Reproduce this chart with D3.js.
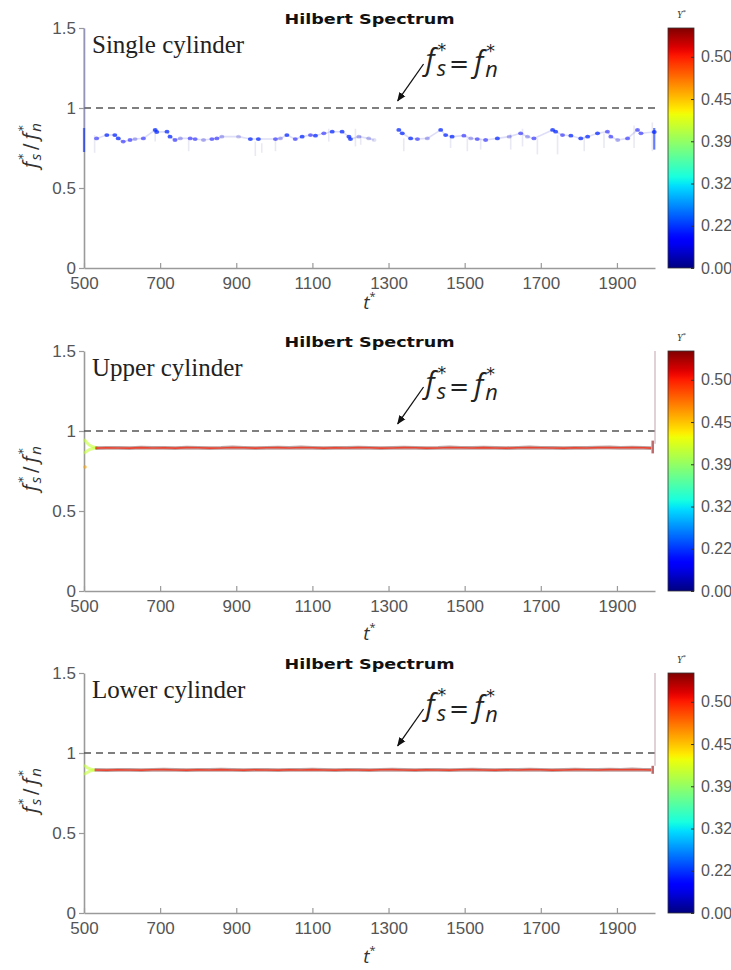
<!DOCTYPE html>
<html>
<head>
<meta charset="utf-8">
<script src="https://cdn.jsdelivr.net/npm/d3@7"></script>
<style>
  body { margin: 0; background: #fff; }
  svg { display: block; }
</style>
</head>
<body>
<svg id="chart" width="731" height="970"></svg>
<script>
// ---------- axes / colour bar settings ----------
const xTicks = [500, 700, 900, 1100, 1300, 1500, 1700, 1900];
const yTicks = [0, 0.5, 1, 1.5];
const yTickLabels = ["0", "0.5", "1", "1.5"];
const cbTicks = [0.00, 0.22, 0.32, 0.39, 0.45, 0.50];
const cbTickLabels = ["0.00", "0.22", "0.32", "0.39", "0.45", "0.50"];
const cbMax = 0.53;
const panelNames = ["Single cylinder", "Upper cylinder", "Lower cylinder"];
const resonance = 1.0;              // f_s* = f_n*

// ---------- single cylinder: ridge points [t*, f_s*/f_n*, Y*] ----------
const singleRidgeA = [
  [533,0.810,0.15],[560,0.831,0.20],[581,0.831,0.20],[590,0.810,0.20],[603,0.790,0.15],
  [621,0.800,0.15],[634,0.806,0.09],[656,0.810,0.15],[687,0.863,0.20],[691,0.850,0.20],
  [718,0.852,0.20],[726,0.821,0.20],[739,0.800,0.15],[753,0.810,0.09],[779,0.810,0.15],
  [792,0.806,0.15],[814,0.800,0.09],[836,0.806,0.15],[849,0.810,0.15],[862,0.821,0.09],
  [906,0.821,0.07],[937,0.806,0.20],[958,0.806,0.20],[1003,0.806,0.15],[1016,0.810,0.09],
  [1033,0.831,0.20],[1055,0.806,0.15],[1073,0.821,0.20],[1095,0.831,0.15],[1108,0.827,0.20],
  [1130,0.842,0.15],[1152,0.852,0.20],[1178,0.852,0.20],[1196,0.821,0.20],[1200,0.806,0.20],
  [1222,0.821,0.09],[1248,0.810,0.08],[1262,0.800,0.05]
];
const singleRidgeB = [
  [1327,0.863,0.20],[1336,0.842,0.20],[1358,0.810,0.20],[1376,0.806,0.15],[1402,0.810,0.09],
  [1437,0.863,0.20],[1450,0.831,0.20],[1467,0.821,0.20],[1498,0.827,0.15],[1516,0.810,0.09],
  [1533,0.806,0.15],[1555,0.800,0.15],[1586,0.810,0.20],[1617,0.821,0.09],[1647,0.842,0.15],
  [1665,0.821,0.09],[1682,0.810,0.15],[1731,0.863,0.20],[1739,0.852,0.20],[1757,0.831,0.15],
  [1779,0.827,0.20],[1805,0.810,0.20],[1823,0.821,0.20],[1849,0.842,0.20],[1875,0.852,0.15],
  [1884,0.821,0.15],[1902,0.800,0.09],[1928,0.810,0.15],[1954,0.863,0.15],[1963,0.842,0.15],
  [1998,0.850,0.20]
];
// low-energy spreads of the single cylinder [t*, low, high]
const singleSpread = [
  [528,0.72,0.83],[687,0.79,0.87],[775,0.73,0.80],[950,0.70,0.79],[967,0.72,0.78],
  [1003,0.73,0.80],[1143,0.79,0.87],[1213,0.76,0.87],[1227,0.77,0.83],[1340,0.73,0.81],
  [1463,0.75,0.83],[1507,0.73,0.81],[1542,0.74,0.81],[1621,0.74,0.84],[1652,0.76,0.87],
  [1691,0.71,0.81],[1744,0.71,0.83],[1814,0.73,0.82],[1866,0.75,0.84],[1945,0.75,0.89],
  [1993,0.73,0.91]
];
// edge bursts [t*, low, high, Y*]
const singleBursts = [[500,0.725,0.875,0.20],[1998,0.74,0.875,0.20]];
const singleEdge = [500, 0.875, 1.5];

// ---------- upper cylinder ----------
const upperAmp = 0.50;
const upperRidge = [
  [530,0.893],[560,0.895],[590,0.894],[620,0.893],[650,0.896],[680,0.894],[710,0.895],
  [740,0.893],[770,0.896],[800,0.895],[830,0.893],[860,0.894],[890,0.897],[920,0.895],
  [950,0.893],[980,0.895],[1010,0.896],[1040,0.894],[1070,0.897],[1100,0.895],[1130,0.893],
  [1160,0.895],[1190,0.894],[1220,0.896],[1250,0.895],[1280,0.893],[1310,0.894],[1340,0.896],
  [1370,0.895],[1400,0.893],[1430,0.894],[1460,0.897],[1490,0.895],[1520,0.894],[1550,0.896],
  [1580,0.894],[1610,0.893],[1640,0.895],[1670,0.897],[1700,0.895],[1730,0.894],[1760,0.893],
  [1790,0.895],[1820,0.894],[1850,0.896],[1880,0.897],[1910,0.895],[1940,0.896],[1970,0.895],
  [1990,0.893]
];
const upperOnset = [
  [[500,0.950],[506,0.930],[514,0.912],[524,0.900],[535,0.895]],
  [[500,0.860],[506,0.872],[514,0.884],[524,0.891],[535,0.895]]
];
const upperOnsetAmp = 0.41;
const upperSpot = [500, 0.775, 0.46];
const upperFlare = [1994, 0.86, 0.94];
const upperEdge = [2000, 0.92, 1.5];

// ---------- lower cylinder ----------
const lowerAmp = 0.50;
const lowerRidge = [
  [528,0.894],[560,0.893],[590,0.895],[620,0.894],[650,0.893],[680,0.895],[710,0.896],
  [740,0.894],[770,0.893],[800,0.895],[830,0.894],[860,0.896],[890,0.894],[920,0.893],
  [950,0.895],[980,0.894],[1010,0.893],[1040,0.895],[1070,0.894],[1100,0.896],[1130,0.894],
  [1160,0.893],[1190,0.895],[1220,0.894],[1250,0.893],[1280,0.895],[1310,0.896],[1340,0.894],
  [1370,0.893],[1400,0.895],[1430,0.894],[1460,0.893],[1490,0.895],[1520,0.896],[1550,0.894],
  [1580,0.893],[1610,0.895],[1640,0.894],[1670,0.896],[1700,0.895],[1730,0.893],[1760,0.894],
  [1790,0.896],[1820,0.895],[1850,0.894],[1880,0.896],[1910,0.895],[1940,0.897],[1970,0.895],
  [1990,0.894]
];
const lowerOnset = [
  [[500,0.925],[508,0.908],[518,0.899],[528,0.894]],
  [[500,0.865],[508,0.878],[518,0.889],[528,0.894]]
];
const lowerOnsetAmp = 0.41;
const lowerFlare = [1994, 0.87, 0.92];
const lowerEdge = [2000, 0.92, 1.5];

// ---------- jet colour map ----------
const jR = d3.scaleLinear([0, 0.35, 0.66, 0.89, 1], [0, 0, 1, 1, 0.5]).clamp(true);
const jG = d3.scaleLinear([0, 0.125, 0.375, 0.64, 0.91, 1], [0, 0, 1, 1, 0, 0]).clamp(true);
const jB = d3.scaleLinear([0, 0.11, 0.34, 0.65, 1], [0.5, 1, 1, 0, 0]).clamp(true);
const jet = v => d3.rgb(jR(v) * 255, jG(v) * 255, jB(v) * 255).formatHex();
// colour-bar normalisation: ticks evenly spaced along the bar
const cbFrac = d3.scaleLinear()
  .domain([...cbTicks, cbMax])
  .range([...cbTicks.map((d, i) => i * 0.176), 1])
  .clamp(true);
const ampColor = a => jet(cbFrac(a));
const ampOpacity = d3.scaleLinear([0.05, 0.2], [0.12, 0.72]).clamp(true);

// ---------- layout ----------
const svg = d3.select("#chart");
const x = d3.scaleLinear().domain([500, 2000]).range([84, 655]);
const panelTops = [28, 351, 673];
const plotH = 240;
const tLabelGap = [41, 49, 50];
const cbX = 668, cbW = 26;

// gradient for colour bars
const defs = svg.append("defs");
const grad = defs.append("linearGradient").attr("id", "jetGrad")
  .attr("x1", 0).attr("y1", 1).attr("x2", 0).attr("y2", 0);
d3.range(0, 1.0001, 0.02).forEach(v => {
  grad.append("stop").attr("offset", v).attr("stop-color", jet(v));
});
defs.append("marker").attr("id", "arrowHead")
  .attr("viewBox", "0 0 10 10").attr("refX", 9).attr("refY", 5)
  .attr("markerWidth", 7).attr("markerHeight", 7).attr("orient", "auto")
  .append("path").attr("d", "M0,1 L10,5 L0,9 Z").attr("fill", "#111");

// appends "f" with a stacked superscript * and a subscript to a text element
function fTerm(t, size, sub, lead) {
  t.append("tspan").attr("dx", lead).attr("font-style", "italic")
    .attr("font-family", "'Open Sans', 'DejaVu Sans', sans-serif")
    .attr("font-size", size).text("f");
  t.append("tspan").attr("dx", 0.1 * size).attr("dy", -0.5 * size)
    .attr("font-family", "'DejaVu Sans', sans-serif")
    .attr("font-size", 0.6 * size).text("*");
  t.append("tspan").attr("dx", -0.33 * size).attr("dy", 0.68 * size).attr("font-style", "italic")
    .attr("font-family", "'Open Sans', 'DejaVu Sans', sans-serif")
    .attr("font-size", 0.75 * size).text(sub);
}

function drawPanel(p, cfg) {
  const top = panelTops[p], bot = top + plotH;
  const y = d3.scaleLinear().domain([0, 1.5]).range([bot, top]);
  const g = svg.append("g");
  const line = d3.line().x(d => x(d[0])).y(d => y(d[1]));

  // title
  g.append("text").attr("x", (x(500) + x(2000)) / 2).attr("y", top - 4)
    .attr("text-anchor", "middle")
    .attr("font-family", "'DejaVu Sans', sans-serif").attr("font-weight", "bold")
    .attr("font-size", 14.5).attr("textLength", 170).attr("lengthAdjust", "spacingAndGlyphs")
    .attr("fill", "#111").text("Hilbert Spectrum");

  // axes
  const xAxis = g.append("g").attr("transform", `translate(0,${bot})`)
    .call(d3.axisBottom(x).tickValues(xTicks).tickSizeInner(-5).tickSizeOuter(0).tickPadding(9)
      .tickFormat(d3.format("d")));
  const yAxis = g.append("g").attr("transform", `translate(${x(500)},0)`)
    .call(d3.axisLeft(y).tickValues(yTicks).tickSizeInner(5).tickSizeOuter(0).tickPadding(3)
      .tickFormat((d, i) => yTickLabels[i]));
  [xAxis, yAxis].forEach(a => {
    a.select(".domain").attr("stroke", "#9a9a9a").attr("stroke-width", 1.6);
    a.selectAll(".tick line").attr("stroke", "#9a9a9a").attr("stroke-width", 1.2);
    a.selectAll(".tick text").attr("font-family", "'Liberation Sans', Arial, sans-serif")
      .attr("font-size", 17).attr("fill", "#555");
  });

  // axis titles
  const tl = g.append("text").attr("x", (x(500) + x(2000)) / 2).attr("y", bot + tLabelGap[p])
    .attr("text-anchor", "middle")
    .attr("font-family", "'Open Sans', 'DejaVu Sans', sans-serif").attr("fill", "#333");
  tl.append("tspan").attr("font-style", "italic").attr("font-size", 19).text("t");
  tl.append("tspan").attr("font-size", 11).attr("dy", -9).text("*");

  const yl = g.append("text")
    .attr("transform", `translate(37,${top + 112}) rotate(-90)`)
    .attr("x", -28).attr("y", 0).attr("fill", "#333");
  fTerm(yl, 20, "s", 0);
  yl.append("tspan").attr("dx", 4).attr("dy", -0.18 * 20)
    .attr("font-family", "'DejaVu Sans', sans-serif").attr("font-size", 19).text("/");
  fTerm(yl, 20, "n", 4);

  // resonance line
  g.append("line").attr("x1", x(500)).attr("x2", x(2000))
    .attr("y1", y(resonance)).attr("y2", y(resonance))
    .attr("stroke", "#555").attr("stroke-width", 1.5).attr("stroke-dasharray", "7,5");

  // data
  cfg.marks(g, y, line);

  // panel label
  g.append("text").attr("x", x(500) + 8).attr("y", top + 25)
    .attr("font-family", "'Liberation Serif', 'Times New Roman', serif")
    .attr("font-size", 25).attr("fill", "#222").text(panelNames[p]);

  // annotation
  const ann = g.append("text").attr("x", x(1400) - 1).attr("y", y(1.235)).attr("fill", "#222");
  fTerm(ann, 29, "s", 0);
  ann.append("tspan").attr("dx", 3).attr("dy", -0.14 * 29)
    .attr("font-family", "'DejaVu Sans', sans-serif").attr("font-size", 24).text("=");
  ann.append("tspan").attr("dy", -0.04 * 29).text("");
  fTerm(ann, 29, "n", 5);
  g.append("line")
    .attr("x1", x(1392)).attr("y1", y(1.275))
    .attr("x2", x(1324)).attr("y2", y(1.045))
    .attr("stroke", "#111").attr("stroke-width", 1.3)
    .attr("marker-end", "url(#arrowHead)");

  // colour bar
  const cb = g.append("g");
  cb.append("rect").attr("x", cbX).attr("y", top).attr("width", cbW).attr("height", plotH)
    .attr("fill", "url(#jetGrad)").attr("stroke", "#333").attr("stroke-width", 0.8);
  const cbY = d3.scaleLinear().domain([0, 1]).range([bot, top]);
  const cbAxis = cb.append("g").attr("transform", `translate(${cbX + cbW},0)`)
    .call(d3.axisRight(d3.scaleLinear().domain(cbFrac.domain()).range(cbFrac.range().map(cbY)))
      .tickValues(cbTicks).tickSizeInner(-3).tickSizeOuter(0).tickPadding(7)
      .tickFormat((d, i) => cbTickLabels[i]));
  cbAxis.select(".domain").remove();
  cbAxis.selectAll(".tick line").attr("stroke", "#333");
  cbAxis.selectAll(".tick text").attr("font-family", "'Liberation Sans', Arial, sans-serif")
    .attr("font-size", 16).attr("fill", "#555");
  const yt = cb.append("text").attr("x", cbX + 9).attr("y", top - 10)
    .attr("font-family", "'Liberation Serif', serif").attr("fill", "#333");
  yt.append("tspan").attr("font-style", "italic").attr("font-size", 10).text("Y");
  yt.append("tspan").attr("font-size", 7).attr("dy", -4).text("*");
}

// single cylinder marks
function singleMarks(g, y, line) {
  g.append("line").attr("x1", x(singleEdge[0])).attr("x2", x(singleEdge[0]))
    .attr("y1", y(singleEdge[1])).attr("y2", y(singleEdge[2]))
    .attr("stroke", "#8c8ce0").attr("stroke-opacity", 0.4).attr("stroke-width", 2);
  g.selectAll(".spread").data(singleSpread).join("line")
    .attr("x1", d => x(d[0])).attr("x2", d => x(d[0]))
    .attr("y1", d => y(d[1])).attr("y2", d => y(d[2]))
    .attr("stroke", "#9a9ac8").attr("stroke-opacity", 0.22).attr("stroke-width", 1.6);
  [singleRidgeA, singleRidgeB].forEach(seg => {
    g.append("path").datum(seg).attr("d", line).attr("fill", "none")
      .attr("stroke", "#6a6ae0").attr("stroke-opacity", 0.22).attr("stroke-width", 1.6);
    g.selectAll(null).data(seg).join("ellipse")
      .attr("cx", d => x(d[0])).attr("cy", d => y(d[1]))
      .attr("rx", 2.5).attr("ry", 1.9)
      .attr("fill", d => ampColor(d[2])).attr("fill-opacity", d => ampOpacity(d[2]));
  });
  g.selectAll(".burst").data(singleBursts).join("line")
    .attr("x1", d => x(d[0])).attr("x2", d => x(d[0]))
    .attr("y1", d => y(d[1])).attr("y2", d => y(d[2]))
    .attr("stroke", d => ampColor(d[3])).attr("stroke-opacity", 0.6).attr("stroke-width", 2.2);
}

// coupled cylinder marks
function pairMarks(ridge, amp, onset, onsetAmp, flare, edge, spot) {
  return function (g, y, line) {
    g.append("line").attr("x1", x(edge[0])).attr("x2", x(edge[0]))
      .attr("y1", y(edge[1])).attr("y2", y(edge[2]))
      .attr("stroke", "#c9a9b4").attr("stroke-opacity", 0.55).attr("stroke-width", 2);
    onset.forEach(seg => {
      g.append("path").datum(seg).attr("d", line).attr("fill", "none")
        .attr("stroke", ampColor(onsetAmp)).attr("stroke-opacity", 0.6).attr("stroke-width", 3);
    });
    if (spot) {
      g.append("circle").attr("cx", x(spot[0]) + 1).attr("cy", y(spot[1])).attr("r", 1.8)
        .attr("fill", ampColor(spot[2])).attr("fill-opacity", 0.6);
    }
    g.append("path").datum(ridge).attr("d", line).attr("fill", "none")
      .attr("stroke", "#7a4848").attr("stroke-opacity", 0.5).attr("stroke-width", 3.8);
    g.append("path").datum(ridge).attr("d", line).attr("fill", "none")
      .attr("stroke", ampColor(amp)).attr("stroke-opacity", 0.7).attr("stroke-width", 1.6);
    g.append("line").attr("x1", x(flare[0])).attr("x2", x(flare[0]))
      .attr("y1", y(flare[1])).attr("y2", y(flare[2]))
      .attr("stroke", "#a83838").attr("stroke-opacity", 0.75).attr("stroke-width", 2.5);
  };
}

drawPanel(0, { marks: singleMarks });
drawPanel(1, { marks: pairMarks(upperRidge, upperAmp, upperOnset, upperOnsetAmp, upperFlare, upperEdge, upperSpot) });
drawPanel(2, { marks: pairMarks(lowerRidge, lowerAmp, lowerOnset, lowerOnsetAmp, lowerFlare, lowerEdge, null) });
</script>
</body>
</html>
